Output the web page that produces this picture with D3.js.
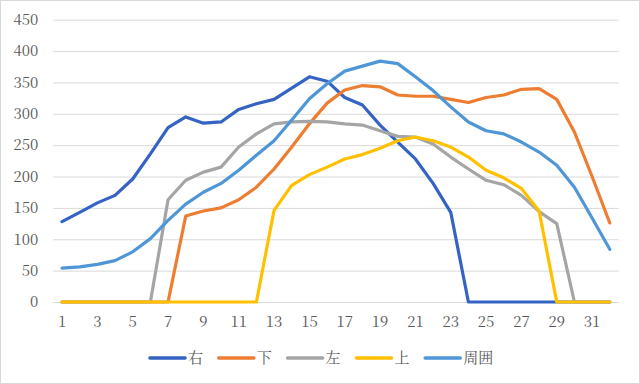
<!DOCTYPE html>
<html>
<head>
<meta charset="utf-8">
<script src="https://cdn.jsdelivr.net/npm/d3@7"></script>
<style>
  body { margin: 0; background: #fff; }
  svg { display: block; }
</style>
</head>
<body>
<script>
// categories 1..32, five series

var days = d3.range(1, 33);

var migi   = [128, 143, 158, 170, 196, 236, 278, 295, 285, 287, 307, 316, 323, 341, 359, 352, 326, 314, 282, 255, 228, 189, 143, 0, 0, 0, 0, 0, 0, 0, 0, 0];
var shita  = [0, 0, 0, 0, 0, 0, 0, 137, 145, 150, 163, 183, 212, 247, 284, 317, 338, 345, 343, 330, 328, 328, 323, 318, 326, 330, 339, 340, 323, 271, 200, 126];
var hidari = [0, 0, 0, 0, 0, 0, 163, 194, 207, 215, 247, 268, 284, 287, 288, 287, 284, 282, 273, 264, 263, 252, 231, 212, 194, 187, 170, 144, 125, 0, 0, 0];
var ue     = [0, 0, 0, 0, 0, 0, 0, 0, 0, 0, 0, 0, 146, 186, 203, 215, 228, 235, 245, 257, 263, 257, 247, 231, 210, 198, 181, 145, 0, 0, 0, 0];
var shuui  = [54, 56, 60, 66, 80, 101, 130, 156, 175, 189, 210, 234, 257, 290, 324, 348, 368, 376, 384, 380, 359, 337, 311, 287, 273, 268, 255, 239, 218, 183, 134, 84];

var names = ["右", "下", "左", "上", "周囲"];
var series = [migi, shita, hidari, ue, shuui];
var yTicks = [0, 50, 100, 150, 200, 250, 300, 350, 400, 450];

// mincho-like look
var FONT = "'Noto Serif CJK JP', 'Liberation Serif', serif";

var W = 640, H = 384;
var margin = {top: 19.7, left: 53.2, right: 21.4, bottom: 82};
var width = W - margin.left - margin.right, height = H - margin.top - margin.bottom;

var svg = d3.select("body").append("svg")
  .attr("width", W)
  .attr("height", H);

// outer border
svg.append("rect")
  .attr("x", 0.5).attr("y", 0.5)
  .attr("width", W - 1).attr("height", H - 1)
  .attr("fill", "#fff")
  .attr("stroke", "#d9d9d9");

var g = svg.append("g")
  .attr("transform", "translate(" + margin.left + "," + margin.top + ")");

var x = d3.scaleBand()
  .domain(days)
  .range([0, width]);

var y = d3.scaleLinear()
  .domain([0, 450])
  .range([height, 0]);

var color = d3.scaleOrdinal()
  .domain(names)
  .range(["#3563c4", "#ed7d31", "#a5a5a5", "#ffc000", "#4e96d6"]);

function styleText(sel) {
  sel.style("font-family", FONT)
    .style("font-size", "15px")
    .style("fill", "#595959");
}

// gridlines + y labels
var yAxis = d3.axisLeft(y)
  .tickValues(yTicks)
  .tickSize(-width)
  .tickPadding(15);

g.append("g")
  .attr("class", "y axis")
  .call(yAxis)
  .call(function(a){
    a.select(".domain").remove();
    a.selectAll(".tick line").attr("stroke", "#d9d9d9").attr("stroke-width", 1);
    a.selectAll(".tick text").call(styleText);
  });

// x labels, odd days only
var xAxis = d3.axisBottom(x)
  .tickValues(days.filter(function(d){ return d % 2 == 1; }))
  .tickSize(0)
  .tickPadding(14);

g.append("g")
  .attr("class", "x axis")
  .attr("transform", "translate(0," + height + ")")
  .call(xAxis)
  .call(function(a){
    a.select(".domain").remove();
    a.selectAll(".tick text").call(styleText);
  });

var line = d3.line()
  .x(function(d, i){ return x(days[i]) + x.bandwidth() / 2; })
  .y(function(d){ return y(d); });

g.selectAll(".series")
  .data(series)
  .enter().append("path")
  .attr("class", "series")
  .attr("d", line)
  .attr("fill", "none")
  .attr("stroke", function(d, i){ return color(names[i]); })
  .attr("stroke-width", 3.2)
  .attr("stroke-linejoin", "round")
  .attr("stroke-linecap", "round");

// legend
var legend = svg.append("g")
  .attr("transform", "translate(150,358)");

var item = legend.selectAll(".item")
  .data(names)
  .enter().append("g")
  .attr("class", "item")
  .attr("transform", function(d, i){ return "translate(" + (i * 68.8) + ",0)"; });

item.append("line")
  .attr("x1", 0).attr("x2", 35)
  .attr("y1", 0).attr("y2", 0)
  .attr("stroke", function(d){ return color(d); })
  .attr("stroke-width", 3.6)
  .attr("stroke-linecap", "round");

item.append("text")
  .attr("x", 38)
  .attr("y", 0)
  .attr("dy", "0.36em")
  .text(function(d){ return d; })
  .call(styleText);
</script>
</body>
</html>
